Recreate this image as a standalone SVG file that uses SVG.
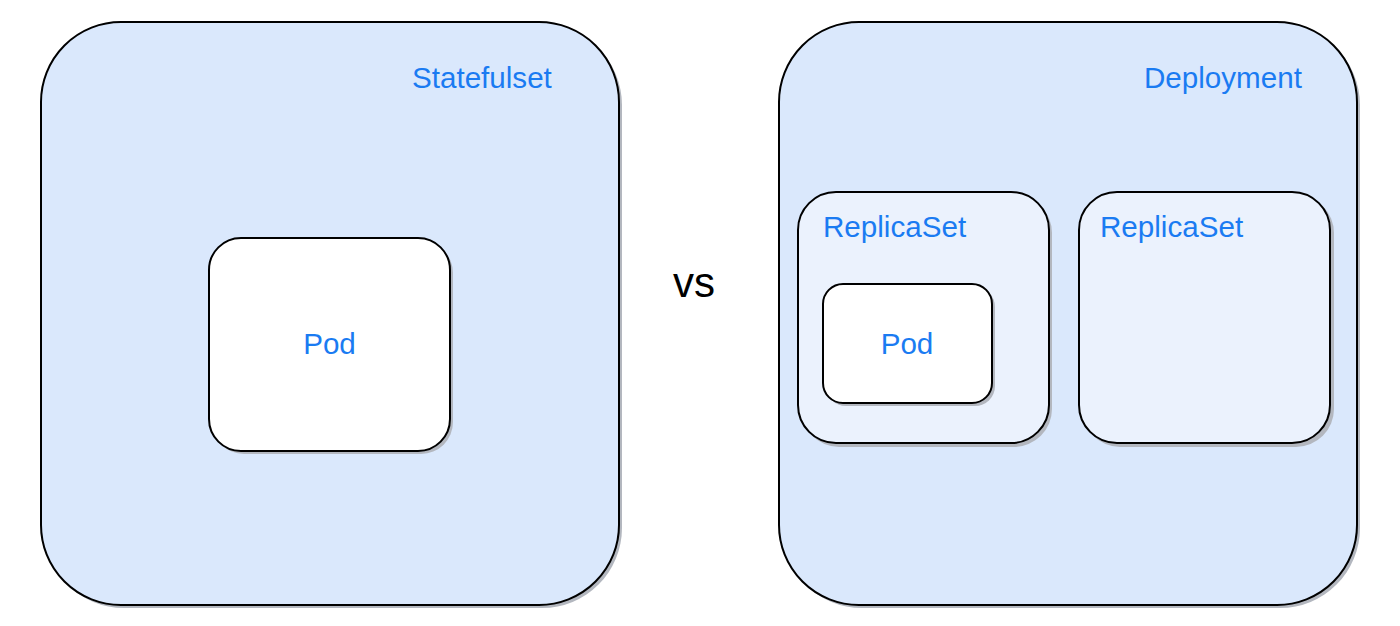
<svg xmlns="http://www.w3.org/2000/svg" width="1400" height="626" viewBox="0 0 1400 626">
<defs>
<style>
.shadow{fill:#b3b7bf;stroke:none}
.outer{fill:#dae8fc;stroke:#000;stroke-width:2}
.rs{fill:#ebf2fd;stroke:#000;stroke-width:2}
.pod{fill:#ffffff;stroke:#000;stroke-width:2}
.lbl{font-family:"Liberation Sans",Arial,sans-serif;font-size:29.6px;fill:#1a7bf2}
.vs{font-family:"Liberation Sans",Arial,sans-serif;font-size:42px;fill:#000}
</style>
</defs>
<rect width="1400" height="626" fill="#ffffff"/>
<g id="statefulset">
<rect class="shadow" x="44" y="25" width="578" height="583" rx="80" ry="80"/>
<rect class="outer" x="41" y="22" width="578" height="583" rx="80" ry="80"/>
<text class="lbl" x="412" y="88">Statefulset</text>
</g>
<g id="pod-left">
<rect class="shadow" x="212" y="241" width="241" height="213" rx="32" ry="32"/>
<rect class="pod" x="209" y="238" width="241" height="213" rx="32" ry="32"/>
<text class="lbl" x="329.5" y="354" text-anchor="middle">Pod</text>
</g>
<g id="vs">
<text class="vs" x="694" y="297" text-anchor="middle">vs</text>
</g>
<g id="deployment">
<rect class="shadow" x="782" y="25" width="578" height="583" rx="80" ry="80"/>
<rect class="outer" x="779" y="22" width="578" height="583" rx="80" ry="80"/>
<text class="lbl" x="1144" y="88">Deployment</text>
</g>
<g id="replicaset-1">
<rect class="shadow" x="801" y="195" width="251" height="252" rx="38" ry="38"/>
<rect class="rs" x="798" y="192" width="251" height="251" rx="38" ry="38"/>
<text class="lbl" x="823" y="237">ReplicaSet</text>
</g>
<g id="pod-right">
<rect class="shadow" x="826" y="287" width="169" height="119" rx="20" ry="20"/>
<rect class="pod" x="823" y="284" width="169" height="119" rx="20" ry="20"/>
<text class="lbl" x="907" y="354" text-anchor="middle">Pod</text>
</g>
<g id="replicaset-2">
<rect class="shadow" x="1082" y="195" width="252" height="252" rx="38" ry="38"/>
<rect class="rs" x="1079" y="192" width="251" height="251" rx="38" ry="38"/>
<text class="lbl" x="1100" y="237">ReplicaSet</text>
</g>
<g id="connectors"/>
</svg>
